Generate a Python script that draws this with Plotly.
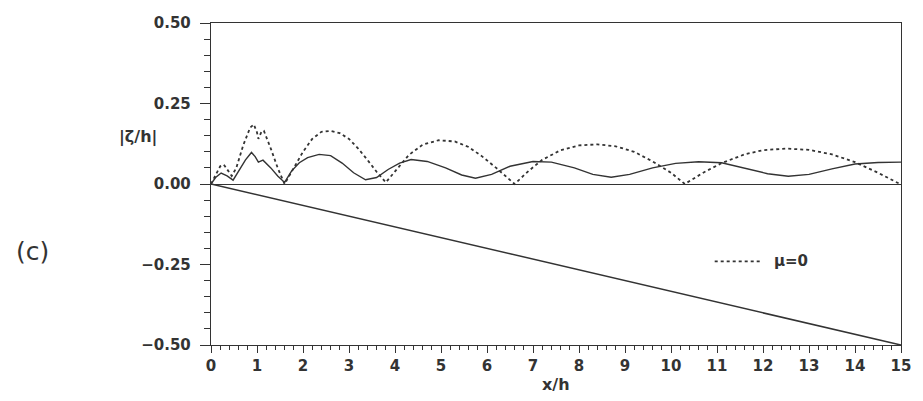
import plotly.graph_objects as go

# Dashed curve (mu = 0)
x_mu0 = [0, 0.1, 0.2, 0.28, 0.35, 0.45, 0.55, 0.7, 0.85, 0.93, 1.0, 1.03, 1.1, 1.15, 1.3, 1.45, 1.6,
         1.8, 2.0, 2.2, 2.4, 2.6, 2.8, 3.0, 3.2, 3.4, 3.6, 3.8,
         4.0, 4.3, 4.6, 4.95, 5.3, 5.6, 5.9, 6.2, 6.6,
         6.9, 7.2, 7.6, 8.0, 8.4, 8.8, 9.2, 9.6, 10.0, 10.3,
         10.7, 11.1, 11.6, 12.0, 12.5, 13.0, 13.5, 14.0, 14.5, 14.95]
y_mu0 = [0, 0.03, 0.055, 0.06, 0.045, 0.025, 0.05, 0.12, 0.175, 0.185, 0.16, 0.14, 0.163, 0.165, 0.11, 0.05, 0.0,
         0.05, 0.1, 0.14, 0.162, 0.165, 0.158, 0.14, 0.11, 0.075, 0.038, 0.005,
         0.04, 0.09, 0.122, 0.136, 0.132, 0.115, 0.085, 0.05, 0.0,
         0.04, 0.075, 0.105, 0.12, 0.123, 0.117, 0.1, 0.07, 0.035, 0.0,
         0.035, 0.065, 0.092, 0.105, 0.11, 0.106, 0.092, 0.068, 0.035, 0.002]

# Solid curve
x_sol = [0, 0.1, 0.22, 0.35, 0.48, 0.6, 0.75, 0.88, 0.96, 1.03, 1.13, 1.3, 1.45, 1.6, 1.75, 1.92, 2.1, 2.35,
         2.6, 2.85, 3.1, 3.36, 3.6, 3.85, 4.1, 4.35, 4.7, 5.1, 5.45, 5.75, 6.1, 6.5, 7.0, 7.4, 7.9, 8.3,
         8.7, 9.1, 9.6, 10.1, 10.6, 11.1, 11.6, 12.1, 12.55, 13.0, 13.5, 14.0, 14.5, 15.0]
y_sol = [0, 0.02, 0.034, 0.025, 0.012, 0.04, 0.075, 0.098, 0.085, 0.068, 0.074, 0.05, 0.025, 0.005, 0.04, 0.066,
         0.082, 0.092, 0.088, 0.065, 0.035, 0.013, 0.02, 0.045, 0.065, 0.076, 0.07, 0.05, 0.028, 0.018, 0.03,
         0.055, 0.07, 0.068, 0.05, 0.03, 0.021, 0.03, 0.05, 0.064, 0.069, 0.066, 0.05, 0.032, 0.024, 0.03,
         0.047, 0.062, 0.067, 0.068]

# Bottom slope
x_bed = [0, 15]
y_bed = [0, -0.5]

x_ticks = list(range(0, 16))
y_ticks = [-0.5, -0.25, 0.0, 0.25, 0.5]
y_tick_labels = ["\u22120.50", "\u22120.25", "0.00", "0.25", "0.50"]

INK = "#333333"
FONT = "DejaVu Sans"

fig = go.Figure()
fig.add_trace(go.Scatter(x=x_bed, y=y_bed, mode="lines", line=dict(color=INK, width=1.6), showlegend=False))
fig.add_trace(go.Scatter(x=x_sol, y=y_sol, mode="lines", line=dict(color=INK, width=1.4), showlegend=False))
fig.add_trace(go.Scatter(x=x_mu0, y=y_mu0, mode="lines", line=dict(color=INK, width=1.8, dash="3px,3px"),
                         showlegend=False))

fig.update_layout(
    width=923, height=401,
    margin=dict(l=211, r=15, t=23, b=56),
    paper_bgcolor="white", plot_bgcolor="white",
    font=dict(family=FONT, color=INK, size=14, weight="bold"),
)
fig.update_xaxes(
    range=[0, 15], tickvals=x_ticks, ticks="outside", ticklen=7, tickwidth=1.2, tickcolor=INK,
    showline=True, linecolor=INK, linewidth=1.4, mirror=True, showgrid=False, zeroline=False,
    minor=dict(dtick=0.2, ticks="outside", ticklen=4, tickcolor=INK, tickwidth=1),
    tickfont=dict(family=FONT, size=15, color=INK, weight="bold"),
)
fig.update_yaxes(
    range=[-0.5, 0.5], tickvals=y_ticks, ticktext=y_tick_labels, ticks="outside", ticklen=10, tickwidth=1.2,
    tickcolor=INK, showline=True, linecolor=INK, linewidth=1.4, mirror=True, showgrid=False,
    zeroline=True, zerolinecolor=INK, zerolinewidth=1.4, ticklabelstandoff=6,
    minor=dict(dtick=0.05, ticks="outside", ticklen=6, tickcolor=INK, tickwidth=1),
    tickfont=dict(family=FONT, size=15, color=INK, weight="bold"),
)

# Axis labels and annotations
fig.add_annotation(text="|\u03b6/h|", xref="paper", yref="paper", x=-0.075, y=0.5 + 47 / 322,
                   xanchor="right", yanchor="middle", showarrow=False,
                   font=dict(family=FONT, size=16, color=INK, weight="bold"))
fig.add_annotation(text="x/h", xref="paper", yref="paper", x=0.5, y=-0.122, xanchor="center", yanchor="middle",
                   showarrow=False, font=dict(family=FONT, size=16, color=INK, weight="bold"))
fig.add_annotation(text="(c)", xref="paper", yref="paper", x=-0.2855, y=0.5 - 68 / 322,
                   xanchor="left", yanchor="middle", showarrow=False,
                   font=dict(family=FONT, size=25, color=INK, weight="normal"))

# Legend (manual)
fig.add_shape(type="line", xref="x", yref="y", x0=10.95, x1=11.95, y0=-0.24, y1=-0.24,
              line=dict(color=INK, width=1.8, dash="3px,3px"))
fig.add_annotation(text="\u03bc=0", xref="x", yref="y", x=12.2, y=-0.24, xanchor="left", yanchor="middle",
                   showarrow=False, font=dict(family=FONT, size=15, color=INK, weight="bold"))

fig.write_html("out.html")
